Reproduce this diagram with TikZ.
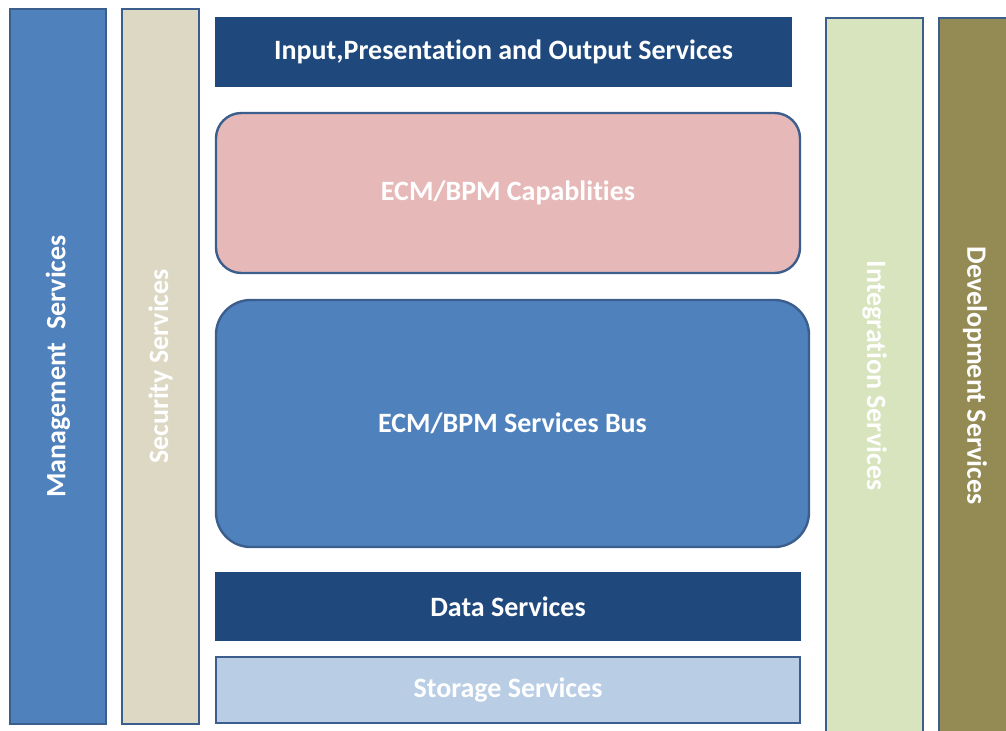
\documentclass[tikz,border=0pt]{standalone}
\usepackage{fontspec}
\setmainfont{Carlito}[Ligatures=NoCommon]
\definecolor{edge}{HTML}{3B5E8C}
\definecolor{mgmt}{HTML}{4F81BD}
\definecolor{secu}{HTML}{DDD8C4}
\definecolor{navy}{HTML}{1F497D}
\definecolor{pinkish}{HTML}{E6B9B8}
\definecolor{storage}{HTML}{B9CDE5}
\definecolor{integ}{HTML}{D7E4BD}
\definecolor{devel}{HTML}{948A54}
\begin{document}
\begin{tikzpicture}[x=0.75pt, y=-0.75pt,
		box/.style={draw=edge, line width=1.8pt, text=white, inner sep=0pt, font=\bfseries\fontsize{21}{25}\selectfont},
		side/.style={box, rotate=90, minimum width=536.25pt},
		down/.style={box, rotate=-90, minimum width=536.25pt},
		band/.style={box, minimum width=438pt}]
	\useasboundingbox (0,0) rectangle (1006,731);
	\clip (0,0) rectangle (1006,731);
	
	\node[side, fill=mgmt, minimum height=72pt] (mgmt) at (58,366.5) {Management\ \ Services};
	\node[side, fill=secu, minimum height=57.75pt] (secu) at (160.5,366.5) {Security Services};
	\node[down, fill=integ, minimum height=72.75pt] (integ) at (874.5,375.5) {Integration Services};
	\node[down, fill=devel, minimum height=54pt] (devel) at (975,375.5) {Development Services};
	
	\node[box, draw=navy, fill=navy, minimum width=431.25pt, minimum height=51pt] (input) at (503.5,52) {Input,Presentation and Output Services};
	\node[band, fill=pinkish, rounded corners=19pt, minimum height=120pt] (cap) at (508,193) {ECM/BPM Capablities};
	\node[box, fill=mgmt, rounded corners=26pt, minimum width=444.75pt, minimum height=185.25pt] (bus) at (512.5,423.5) {ECM/BPM Services Bus};
	\node[band, draw=navy, fill=navy, minimum height=50.25pt] (data) at (508,606.5) {Data Services};
	\node[band, fill=storage, minimum height=49.5pt] (store) at (508,690) {Storage Services};
\end{tikzpicture}
\end{document}
